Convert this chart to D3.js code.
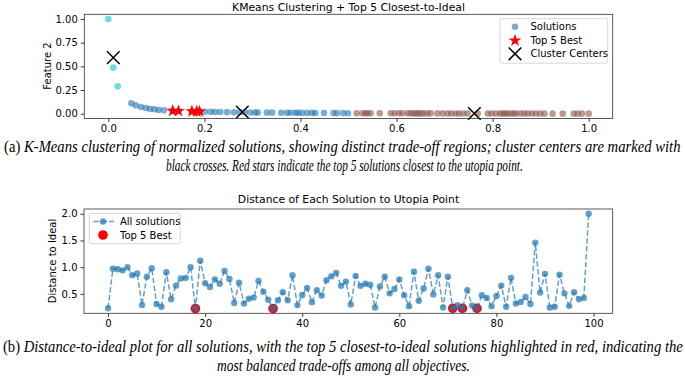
<!DOCTYPE html>
<html>
<head>
<meta charset="utf-8">
<script src="https://d3js.org/d3.v7.min.js"></script>
<style>
  body { margin: 0; background: #fff; }
  text { font-family: "DejaVu Sans", sans-serif; }
  .cap { font-family: "Liberation Serif", serif; font-size: 16px; }
</style>
</head>
<body>
<svg id="fig" width="685" height="379"></svg>
<script>
// ---- top chart data: normalized solutions, per cluster ----
const cyanX = [0.0, 0.0104, 0.0196];
const cyanY = [1.0, 0.486, 0.289];

const blueX = [0.048, 0.057, 0.068, 0.078, 0.087, 0.096, 0.105, 0.116,
  0.134, 0.146, 0.174, 0.184, 0.19,
  0.201, 0.213, 0.222, 0.233, 0.247, 0.261, 0.273, 0.284, 0.296, 0.306, 0.311,
  0.33, 0.341, 0.36, 0.372, 0.379, 0.389, 0.395, 0.403, 0.414, 0.424, 0.431,
  0.449, 0.469, 0.476, 0.489, 0.499];
const blueY = [0.11, 0.088, 0.071, 0.06, 0.05, 0.046, 0.039, 0.035,
  0.03, 0.028, 0.025, 0.024, 0.023,
  0.02, 0.019, 0.018, 0.017, 0.016, 0.015, 0.014, 0.014, 0.013, 0.012, 0.012,
  0.011, 0.011, 0.01, 0.01, 0.009, 0.009, 0.009, 0.008, 0.008, 0.008, 0.007,
  0.007, 0.006, 0.006, 0.006, 0.005];

const brownX = [0.517, 0.529, 0.535, 0.540, 0.546, 0.565, 0.588, 0.596, 0.605, 0.612,
  0.623, 0.629, 0.635, 0.640, 0.645, 0.650, 0.656, 0.664, 0.671, 0.685,
  0.696, 0.706, 0.714, 0.723, 0.730, 0.739, 0.748, 0.769, 0.790, 0.798,
  0.807, 0.816, 0.821, 0.826, 0.831, 0.838, 0.844, 0.849, 0.858, 0.866,
  0.873, 0.882, 0.890, 0.899, 0.908, 0.925, 0.946, 0.969, 0.977, 0.986, 1.0];
const brownY = [0.005, 0.005, 0.005, 0.005, 0.005, 0.004, 0.004, 0.004, 0.004, 0.004,
  0.004, 0.004, 0.003, 0.003, 0.003, 0.003, 0.003, 0.003, 0.003, 0.003,
  0.003, 0.002, 0.002, 0.002, 0.002, 0.002, 0.002, 0.002, 0.002, 0.002,
  0.002, 0.001, 0.001, 0.001, 0.001, 0.001, 0.001, 0.001, 0.001, 0.001,
  0.001, 0.001, 0.001, 0.001, 0.0, 0.0, 0.0, 0.0, 0.0, 0.0, 0.0];

const bestX = [0.134, 0.146, 0.174, 0.184, 0.19];
const bestY = [0.03, 0.028, 0.025, 0.024, 0.023];

const centerX = [0.0104, 0.279, 0.762];
const centerY = [0.592, 0.018, 0.002];

// ---- bottom chart data: distance to ideal per solution ----
const distances = [0.23, 0.97, 0.96, 0.94, 1.00, 0.85, 0.88, 0.29, 0.82, 0.98,
  0.31, 0.26, 0.905, 0.40, 0.655, 0.79, 0.80, 1.00, 0.225, 1.12,
  0.70, 0.63, 0.77, 0.69, 0.93, 0.78, 0.33, 0.71, 0.32, 0.41,
  0.43, 0.74, 0.54, 0.39, 0.225, 0.38, 0.53, 0.38, 0.85, 0.29,
  0.48, 0.61, 0.345, 0.57, 0.47, 0.755, 0.83, 0.89, 0.65, 0.73,
  0.30, 0.835, 0.65, 0.69, 0.67, 0.245, 0.64, 0.82, 0.51, 0.59,
  0.77, 0.475, 0.27, 0.915, 0.37, 0.60, 0.97, 0.49, 0.85, 0.245,
  0.82, 0.23, 0.29, 0.23, 0.57, 0.28, 0.23, 0.475, 0.425, 0.27,
  0.46, 0.655, 0.26, 0.80, 0.32, 0.35, 0.44, 0.31, 1.46, 0.525,
  0.875, 0.245, 0.26, 0.86, 0.51, 0.276, 0.53, 0.40, 0.425, 2.0];
const bestIdx = [18, 34, 71, 73, 76];

const topXTicks = [0, 0.2, 0.4, 0.6, 0.8, 1.0];
const topYTicks = [0, 0.25, 0.5, 0.75, 1.0];
const botXTicks = [0, 20, 40, 60, 80, 100];
const botYTicks = [0.5, 1.0, 1.5, 2.0];

const svg = d3.select("#fig");
svg.append("rect").attr("width", 685).attr("height", 379).attr("fill", "#fff");

function padded(lo, hi) { const m = (hi - lo) * 0.05; return [lo - m, hi + m]; }

function drawAxes(g, x, y, xTicks, yTicks, xFmt, yFmt) {
  const [x0, x1] = x.range(), [y0, y1] = y.range();
  g.append("g").attr("transform", `translate(0,${y0})`)
    .call(d3.axisBottom(x).tickValues(xTicks).tickFormat(xFmt).tickSizeOuter(0).tickSize(3.5).tickPadding(3));
  g.append("g").attr("transform", `translate(${x0},0)`)
    .call(d3.axisLeft(y).tickValues(yTicks).tickFormat(yFmt).tickSizeOuter(0).tickSize(3.5).tickPadding(3));
  g.selectAll(".domain").remove();
  g.selectAll(".tick text").attr("font-size", 10).attr("fill", "#000").style("font-family", "DejaVu Sans");
  g.selectAll(".tick line").attr("stroke", "#000").attr("stroke-width", 0.8);
  g.append("rect").attr("x", x0).attr("y", y1).attr("width", x1 - x0).attr("height", y0 - y1)
    .attr("fill", "none").attr("stroke", "#333").attr("stroke-width", 0.8);
}

function cross(g, cx, cy, h) {
  g.append("path").attr("d", `M${cx - h},${cy - h}L${cx + h},${cy + h}M${cx - h},${cy + h}L${cx + h},${cy - h}`)
    .attr("stroke", "#000").attr("stroke-width", 1.5).attr("fill", "none");
}

// a caption line squeezed horizontally to the width it takes in the original
function capLine(x0, x1, y, parts) {
  const t = svg.append("text").attr("class", "cap");
  parts.forEach(([s, italic]) => t.append("tspan").attr("font-style", italic ? "italic" : "normal").text(s));
  const w = t.node().getComputedTextLength();
  t.attr("transform", `translate(${x0},${y}) scale(${(x1 - x0) / w},1)`);
}

// ================= top chart =================
const gt = svg.append("g");
const xt = d3.scaleLinear().domain(padded(0, 1)).range([84.3, 612.7]);
const yt = d3.scaleLinear().domain(padded(0, 1)).range([118.4, 14.3]);

const clusters = [
  { xs: blueX, ys: blueY, color: "#1f77b4" },
  { xs: brownX, ys: brownY, color: "#8c564b" },
  { xs: cyanX, ys: cyanY, color: "#17becf" }
];
clusters.forEach(c => {
  gt.append("g").selectAll("circle").data(d3.range(c.xs.length)).join("circle")
    .attr("cx", i => xt(c.xs[i])).attr("cy", i => yt(c.ys[i])).attr("r", 3.3)
    .attr("fill", c.color).attr("fill-opacity", 0.6);
});
const star = d3.symbol().type(d3.symbolStar).size(52);
gt.append("g").selectAll("path").data(d3.range(bestX.length)).join("path")
  .attr("d", star).attr("transform", i => `translate(${xt(bestX[i])},${yt(bestY[i])})`)
  .attr("fill", "#ff0000");
centerX.forEach((cx, i) => cross(gt, xt(cx), yt(centerY[i]), 6.3));

drawAxes(gt, xt, yt, topXTicks, topYTicks, d3.format(".1f"), d3.format(".2f"));

gt.append("text").attr("x", 348.5).attr("y", 11).attr("text-anchor", "middle")
  .attr("font-size", 10.8).text("KMeans Clustering + Top 5 Closest-to-Ideal");
gt.append("text").attr("transform", "translate(51,66) rotate(-90)").attr("text-anchor", "middle")
  .attr("font-size", 10).text("Feature 2");

// legend
const lt = gt.append("g");
lt.append("rect").attr("x", 500).attr("y", 18.7).attr("width", 107.7).attr("height", 44.5).attr("rx", 2)
  .attr("fill", "#fff").attr("fill-opacity", 0.8).attr("stroke", "#ccc").attr("stroke-width", 0.8);
lt.append("circle").attr("cx", 515).attr("cy", 26.7).attr("r", 3.3).attr("fill", "#1f77b4").attr("fill-opacity", 0.6);
lt.append("path").attr("d", star).attr("transform", "translate(515,40.5)").attr("fill", "#ff0000");
cross(lt, 515, 53.8, 6.3);
[["Solutions", 26.7], ["Top 5 Best", 40.3], ["Cluster Centers", 53.8]].forEach(([t, y]) => {
  lt.append("text").attr("x", 530.5).attr("y", y + 3.6).attr("font-size", 10).text(t);
});

capLine(4, 681, 152, [["(a) ", false],
  ["K-Means clustering of normalized solutions, showing distinct trade-off regions; cluster centers are marked with", true]]);
capLine(166, 523, 171, [["black crosses. Red stars indicate the top 5 solutions closest to the utopia point.", true]]);

// ================= bottom chart =================
const gb = svg.append("g");
const xb = d3.scaleLinear().domain(padded(0, distances.length - 1)).range([84, 612.7]);
const yb = d3.scaleLinear().domain(padded(d3.min(distances), d3.max(distances))).range([313.3, 209]);

gb.append("g").selectAll("circle").data(bestIdx).join("circle")
  .attr("cx", i => xb(i)).attr("cy", i => yb(distances[i])).attr("r", 4.8).attr("fill", "#ff0000");

const line = d3.line().x((d, i) => xb(i)).y(d => yb(d));
gb.append("path").datum(distances).attr("d", line).attr("fill", "none")
  .attr("stroke", "#1f77b4").attr("stroke-opacity", 0.7).attr("stroke-width", 1.5)
  .attr("stroke-dasharray", "5.5,2.4");
gb.append("g").selectAll("circle").data(distances).join("circle")
  .attr("cx", (d, i) => xb(i)).attr("cy", d => yb(d)).attr("r", 3.2)
  .attr("fill", "#1f77b4").attr("fill-opacity", 0.7);

drawAxes(gb, xb, yb, botXTicks, botYTicks, d3.format("d"), d3.format(".1f"));

gb.append("text").attr("x", 348.5).attr("y", 203).attr("text-anchor", "middle")
  .attr("font-size", 10.8).text("Distance of Each Solution to Utopia Point");
gb.append("text").attr("transform", "translate(56,261) rotate(-90)").attr("text-anchor", "middle")
  .attr("font-size", 10).text("Distance to Ideal");

// legend
const lb = gb.append("g");
lb.append("rect").attr("x", 89.3).attr("y", 213.3).attr("width", 91).attr("height", 30.4).attr("rx", 2)
  .attr("fill", "#fff").attr("fill-opacity", 0.8).attr("stroke", "#ccc").attr("stroke-width", 0.8);
lb.append("line").attr("x1", 93.5).attr("x2", 114).attr("y1", 221.5).attr("y2", 221.5)
  .attr("stroke", "#1f77b4").attr("stroke-opacity", 0.7).attr("stroke-width", 1.5).attr("stroke-dasharray", "5.5,2.4");
lb.append("circle").attr("cx", 103).attr("cy", 221.5).attr("r", 3.2).attr("fill", "#1f77b4").attr("fill-opacity", 0.7);
lb.append("circle").attr("cx", 103).attr("cy", 235).attr("r", 4.8).attr("fill", "#ff0000");
lb.append("text").attr("x", 120).attr("y", 225.1).attr("font-size", 10).text("All solutions");
lb.append("text").attr("x", 120).attr("y", 238.6).attr("font-size", 10).text("Top 5 Best");

capLine(3, 683, 352, [["(b) ", false],
  ["Distance-to-ideal plot for all solutions, with the top 5 closest-to-ideal solutions highlighted in red, indicating the", true]]);
capLine(217, 470, 371, [["most balanced trade-offs among all objectives.", true]]);
</script>
</body>
</html>
